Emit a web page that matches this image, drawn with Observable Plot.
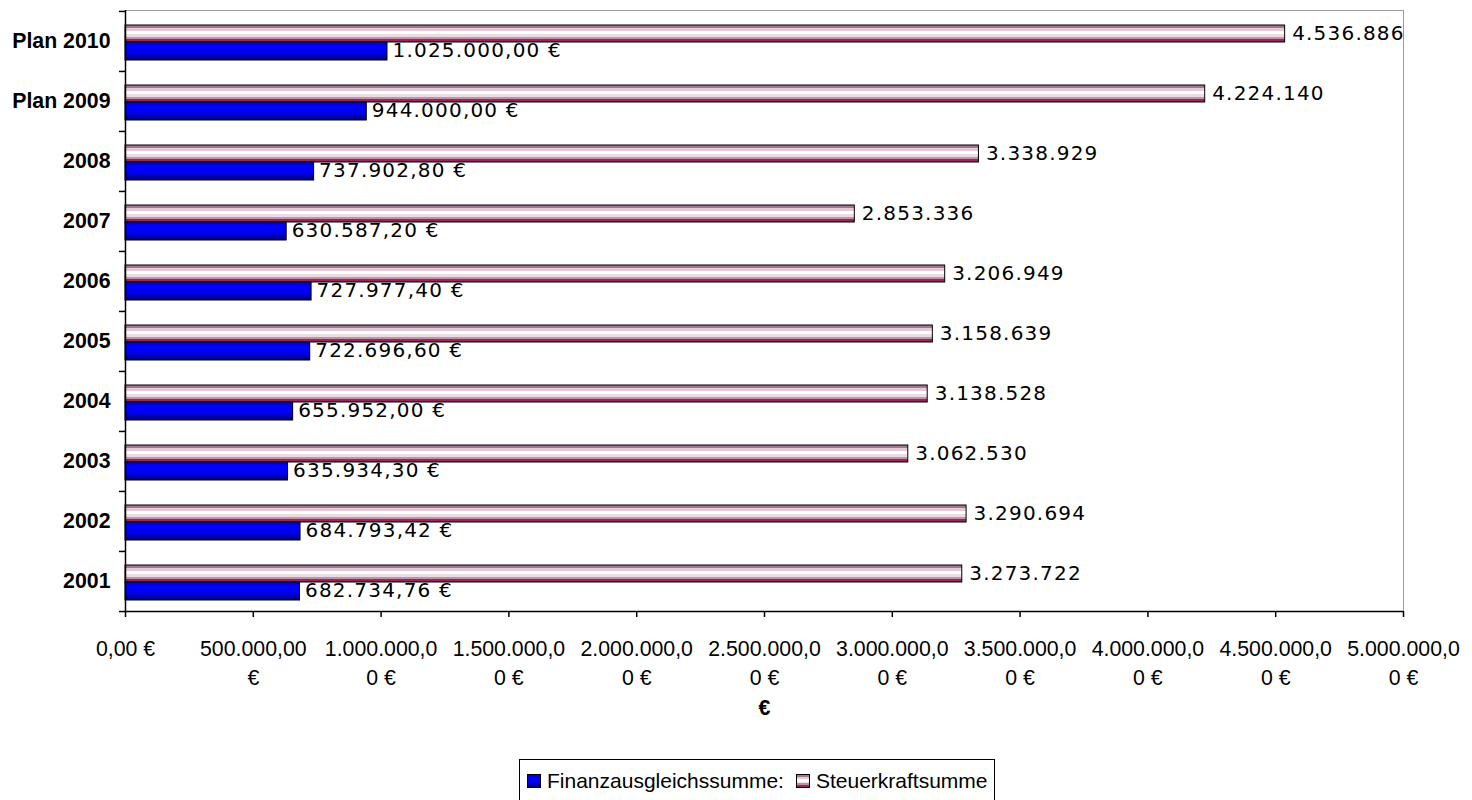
<!DOCTYPE html>
<html>
<head>
<meta charset="utf-8">
<script src="https://cdn.jsdelivr.net/npm/d3@7"></script>
<script src="https://cdn.jsdelivr.net/npm/@observablehq/plot@0.6"></script>
<style>
  body { margin: 0; background: #fff; }
  #chart { position: relative; width: 1472px; height: 800px; overflow: hidden; background: #fff; }
  #chart svg g[font-family^="DejaVu"] text { letter-spacing: 1.2px; }
  .legend { position: absolute; left: 519px; top: 759px; border: 1px solid #000; background: #fff;
    font-family: "Liberation Sans", Arial, sans-serif; font-size: 21px; color: #000;
    padding: 8px 6px 10px 7px; display: flex; align-items: center; white-space: nowrap; line-height: 26px; }
  .sw { display: inline-block; width: 12px; height: 12px; border: 1px solid #000; margin-right: 6px; }
  .item { display: flex; align-items: center; margin-right: 12px; }
  .item:last-child { margin-right: 0; }
</style>
</head>
<body>
<div id="chart"></div>
<script>
// ---- data ----
const categories = ["2001", "2002", "2003", "2004", "2005", "2006", "2007", "2008", "Plan 2009", "Plan 2010"];
const finanzausgleich = [682734.76, 684793.42, 635934.30, 655952.00, 722696.60, 727977.40, 630587.20, 737902.80, 944000.00, 1025000.00];
const steuerkraft = [3273722, 3290694, 3062530, 3138528, 3158639, 3206949, 2853336, 3338929, 4224140, 4536886];
const seriesNames = ["Finanzausgleichssumme:", "Steuerkraftsumme"];
const xTicks = [0, 500000, 1000000, 1500000, 2000000, 2500000, 3000000, 3500000, 4000000, 4500000, 5000000];
const xTickLabels = ["0,00 €", "500.000,00\n€", "1.000.000,0\n0 €", "1.500.000,0\n0 €", "2.000.000,0\n0 €",
  "2.500.000,0\n0 €", "3.000.000,0\n0 €", "3.500.000,0\n0 €", "4.000.000,0\n0 €", "4.500.000,0\n0 €", "5.000.000,0\n0 €"];
const axisTitle = "€";

const rows = categories.map((c, i) => ({cat: c, fin: finanzausgleich[i], steuer: steuerkraft[i]}));

const de = d3.formatLocale({decimal: ",", thousands: ".", grouping: [3], currency: ["", " €"]});
const fmtEur = de.format("$,.2f");
const fmtInt = de.format(",.0f");

const gradDefs = () => {
  const d = document.createElementNS("http://www.w3.org/2000/svg", "defs");
  d.innerHTML = `
    <linearGradient id="gBlue" x1="0" y1="0" x2="0" y2="1">
      <stop offset="0" stop-color="#0000c8"/>
      <stop offset="0.25" stop-color="#0000ff"/>
      <stop offset="0.6" stop-color="#0000f0"/>
      <stop offset="1" stop-color="#000070"/>
    </linearGradient>
    <linearGradient id="gStripe" x1="0" y1="0" x2="0" y2="1">
      <stop offset="0" stop-color="#a07890"/><stop offset="0.15" stop-color="#a07890"/>
      <stop offset="0.15" stop-color="#e4cad6"/><stop offset="0.35" stop-color="#e4cad6"/>
      <stop offset="0.35" stop-color="#ffffff"/><stop offset="0.55" stop-color="#ffffff"/>
      <stop offset="0.55" stop-color="#ecdce4"/><stop offset="0.7" stop-color="#ecdce4"/>
      <stop offset="0.7" stop-color="#c890a8"/><stop offset="0.85" stop-color="#c890a8"/>
      <stop offset="0.85" stop-color="#902858"/><stop offset="1" stop-color="#902858"/>
    </linearGradient>`;
  return d;
};

const plot = Plot.plot({
  width: 1472,
  height: 755,
  marginLeft: 125,
  marginRight: 69,
  marginTop: 10,
  marginBottom: 144,
  style: {fontFamily: "'Liberation Sans', Arial, sans-serif", fontSize: "21px", color: "#000", background: "#fff", overflow: "visible"},
  x: {domain: [0, 5000000]},
  y: {domain: categories.slice().reverse(), padding: 0},
  marks: [
    gradDefs,
    Plot.frame({stroke: "#9a9a9a"}),
    Plot.barX(rows, {x: "steuer", y: "cat", fill: "url(#gStripe)", stroke: "#000", strokeWidth: 1, insetTop: 14, insetBottom: 29}),
    Plot.barX(rows, {x: "fin", y: "cat", fill: "url(#gBlue)", stroke: "#000", strokeWidth: 1, insetTop: 31, insetBottom: 11}),
    Plot.text(rows, {x: "steuer", y: "cat", text: d => fmtInt(d.steuer), dx: 7, dy: -8, textAnchor: "start", fontFamily: "DejaVu Sans", fontSize: 20, fill: "#000"}),
    Plot.text(rows, {x: "fin", y: "cat", text: d => fmtEur(d.fin), dx: 5, dy: 9.5, textAnchor: "start", fontFamily: "DejaVu Sans", fontSize: 20, fill: "#000"}),
    Plot.ruleX([0], {stroke: "#000", strokeWidth: 1.5}),
    Plot.ruleY([categories[0]], {dy: 30.05, stroke: "#000", strokeWidth: 1.5}),
    Plot.ruleY(categories, {x1: 0, x2: 0, insetLeft: -6, dy: -30.05, stroke: "#000", strokeWidth: 1.5}),
    Plot.ruleY([categories[0]], {x1: 0, x2: 0, insetLeft: -6, dy: 30.05, stroke: "#000", strokeWidth: 1.5}),
    Plot.axisY({tickSize: 0, tickPadding: 15, fontSize: 21.3, fontWeight: "bold", label: null}),
    Plot.axisX({ticks: xTicks, tickSize: 6, tickFormat: () => "", label: null, strokeWidth: 1.5}),
    Plot.text(xTicks, {x: d => d, text: (d, i) => xTickLabels[i], frameAnchor: "bottom", lineAnchor: "top", dy: 23.5, lineHeight: 1.37, fontSize: 21.3, fill: "#000"}),
    Plot.text([axisTitle], {text: d => d, frameAnchor: "bottom", dy: 103, fontWeight: "bold", fontSize: 21.3, fill: "#000"})
  ]
});

const chart = document.getElementById("chart");
chart.appendChild(plot);

const legend = document.createElement("div");
legend.className = "legend";
const swatchStyles = [
  "background: linear-gradient(to bottom, #0000c8 0%, #0000ff 25%, #0000f0 60%, #000070 100%);",
  "background: linear-gradient(to bottom, #a07890 0 15%, #e4cad6 15% 35%, #fff 35% 55%, #ecdce4 55% 70%, #c890a8 70% 85%, #902858 85% 100%);"
];
seriesNames.forEach((name, i) => {
  const item = document.createElement("span");
  item.className = "item";
  const sw = document.createElement("span");
  sw.className = "sw";
  sw.style.cssText = swatchStyles[i];
  item.appendChild(sw);
  item.appendChild(document.createTextNode(name));
  legend.appendChild(item);
});
chart.appendChild(legend);
</script>
</body>
</html>
